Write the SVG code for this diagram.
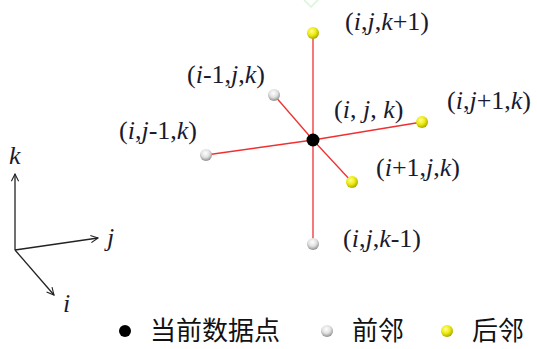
<svg xmlns="http://www.w3.org/2000/svg" width="537" height="349" viewBox="0 0 537 349">
<style>
.lbl{font-family:"Liberation Serif","Times New Roman",serif;font-size:26px;fill:#1a1a2e}
.it{font-style:italic}
.cn{font-family:"Noto Sans CJK SC","Liberation Sans",sans-serif;font-size:26px;fill:#111}
.edge{stroke:#f03030;stroke-width:1.3;fill:none}
.ax{stroke:#222;stroke-width:1.3;fill:none}
</style>
<defs>
<radialGradient id="gy" cx="0.4" cy="0.35" r="0.7">
<stop offset="0" stop-color="#ffff90"/><stop offset="0.5" stop-color="#eeea10"/><stop offset="1" stop-color="#a0a000"/>
</radialGradient>
<radialGradient id="gw" cx="0.45" cy="0.35" r="0.7">
<stop offset="0" stop-color="#ffffff"/><stop offset="0.5" stop-color="#e0e0e0"/><stop offset="1" stop-color="#808080"/>
</radialGradient>
<marker id="ah" viewBox="0 0 10 10" refX="9" refY="5" markerWidth="9" markerHeight="9" orient="auto" markerUnits="userSpaceOnUse">
<path d="M1,1 L9,5 L1,9" fill="none" stroke="#222" stroke-width="1.2"/>
</marker>
</defs>
<rect width="537" height="349" fill="#fff"/>
<polyline points="304,0 311,7 318,0" fill="none" stroke="#d8f5d8" stroke-width="1.5"/>
<g id="connectors">
<line class="edge" x1="313" y1="33" x2="313" y2="244"/>
<line class="edge" x1="313" y1="140" x2="274" y2="95"/>
<line class="edge" x1="313" y1="140" x2="206" y2="155"/>
<line class="edge" x1="313" y1="140" x2="422" y2="122"/>
<line class="edge" x1="313" y1="140" x2="352" y2="182"/>
</g>
<g id="axes">
<line class="ax" x1="15" y1="250" x2="15" y2="174" marker-end="url(#ah)"/>
<line class="ax" x1="15" y1="250" x2="98" y2="238" marker-end="url(#ah)"/>
<line class="ax" x1="15" y1="250" x2="54" y2="295" marker-end="url(#ah)"/>
<text class="lbl it" x="9" y="164">k</text>
<text class="lbl it" x="107" y="246">j</text>
<text class="lbl it" x="63" y="312">i</text>
</g>
<g id="n-center"><circle cx="313" cy="140" r="6.5" fill="#000"/>
<text class="lbl" x="334" y="118">(<tspan class="it">i</tspan>, <tspan class="it">j</tspan>, <tspan class="it">k</tspan>)</text></g>
<g id="n-kp1"><circle cx="313" cy="33" r="6" fill="url(#gy)"/>
<text class="lbl" x="345" y="30">(<tspan class="it">i</tspan>,<tspan class="it">j</tspan>,<tspan class="it">k</tspan>+1)</text></g>
<g id="n-km1"><circle cx="313" cy="244" r="6" fill="url(#gw)"/>
<text class="lbl" x="343" y="247">(<tspan class="it">i</tspan>,<tspan class="it">j</tspan>,<tspan class="it">k</tspan>-1)</text></g>
<g id="n-im1"><circle cx="274" cy="95" r="6" fill="url(#gw)"/>
<text class="lbl" x="187" y="83">(<tspan class="it">i</tspan>-1,<tspan class="it">j</tspan>,<tspan class="it">k</tspan>)</text></g>
<g id="n-jm1"><circle cx="206" cy="155" r="6" fill="url(#gw)"/>
<text class="lbl" x="119" y="139">(<tspan class="it">i</tspan>,<tspan class="it">j</tspan>-1,<tspan class="it">k</tspan>)</text></g>
<g id="n-jp1"><circle cx="422" cy="122" r="6" fill="url(#gy)"/>
<text class="lbl" x="447" y="109">(<tspan class="it">i</tspan>,<tspan class="it">j</tspan>+1,<tspan class="it">k</tspan>)</text></g>
<g id="n-ip1"><circle cx="352" cy="182" r="6" fill="url(#gy)"/>
<text class="lbl" x="376" y="176">(<tspan class="it">i</tspan>+1,<tspan class="it">j</tspan>,<tspan class="it">k</tspan>)</text></g>
<g id="legend">
<circle cx="125" cy="331" r="6" fill="#000"/>
<text class="cn" x="150" y="340">当前数据点</text>
<circle cx="327" cy="331" r="6" fill="url(#gw)"/>
<text class="cn" x="352" y="340">前邻</text>
<circle cx="447" cy="331" r="6" fill="url(#gy)"/>
<text class="cn" x="472" y="340">后邻</text>
</g>
</svg>
